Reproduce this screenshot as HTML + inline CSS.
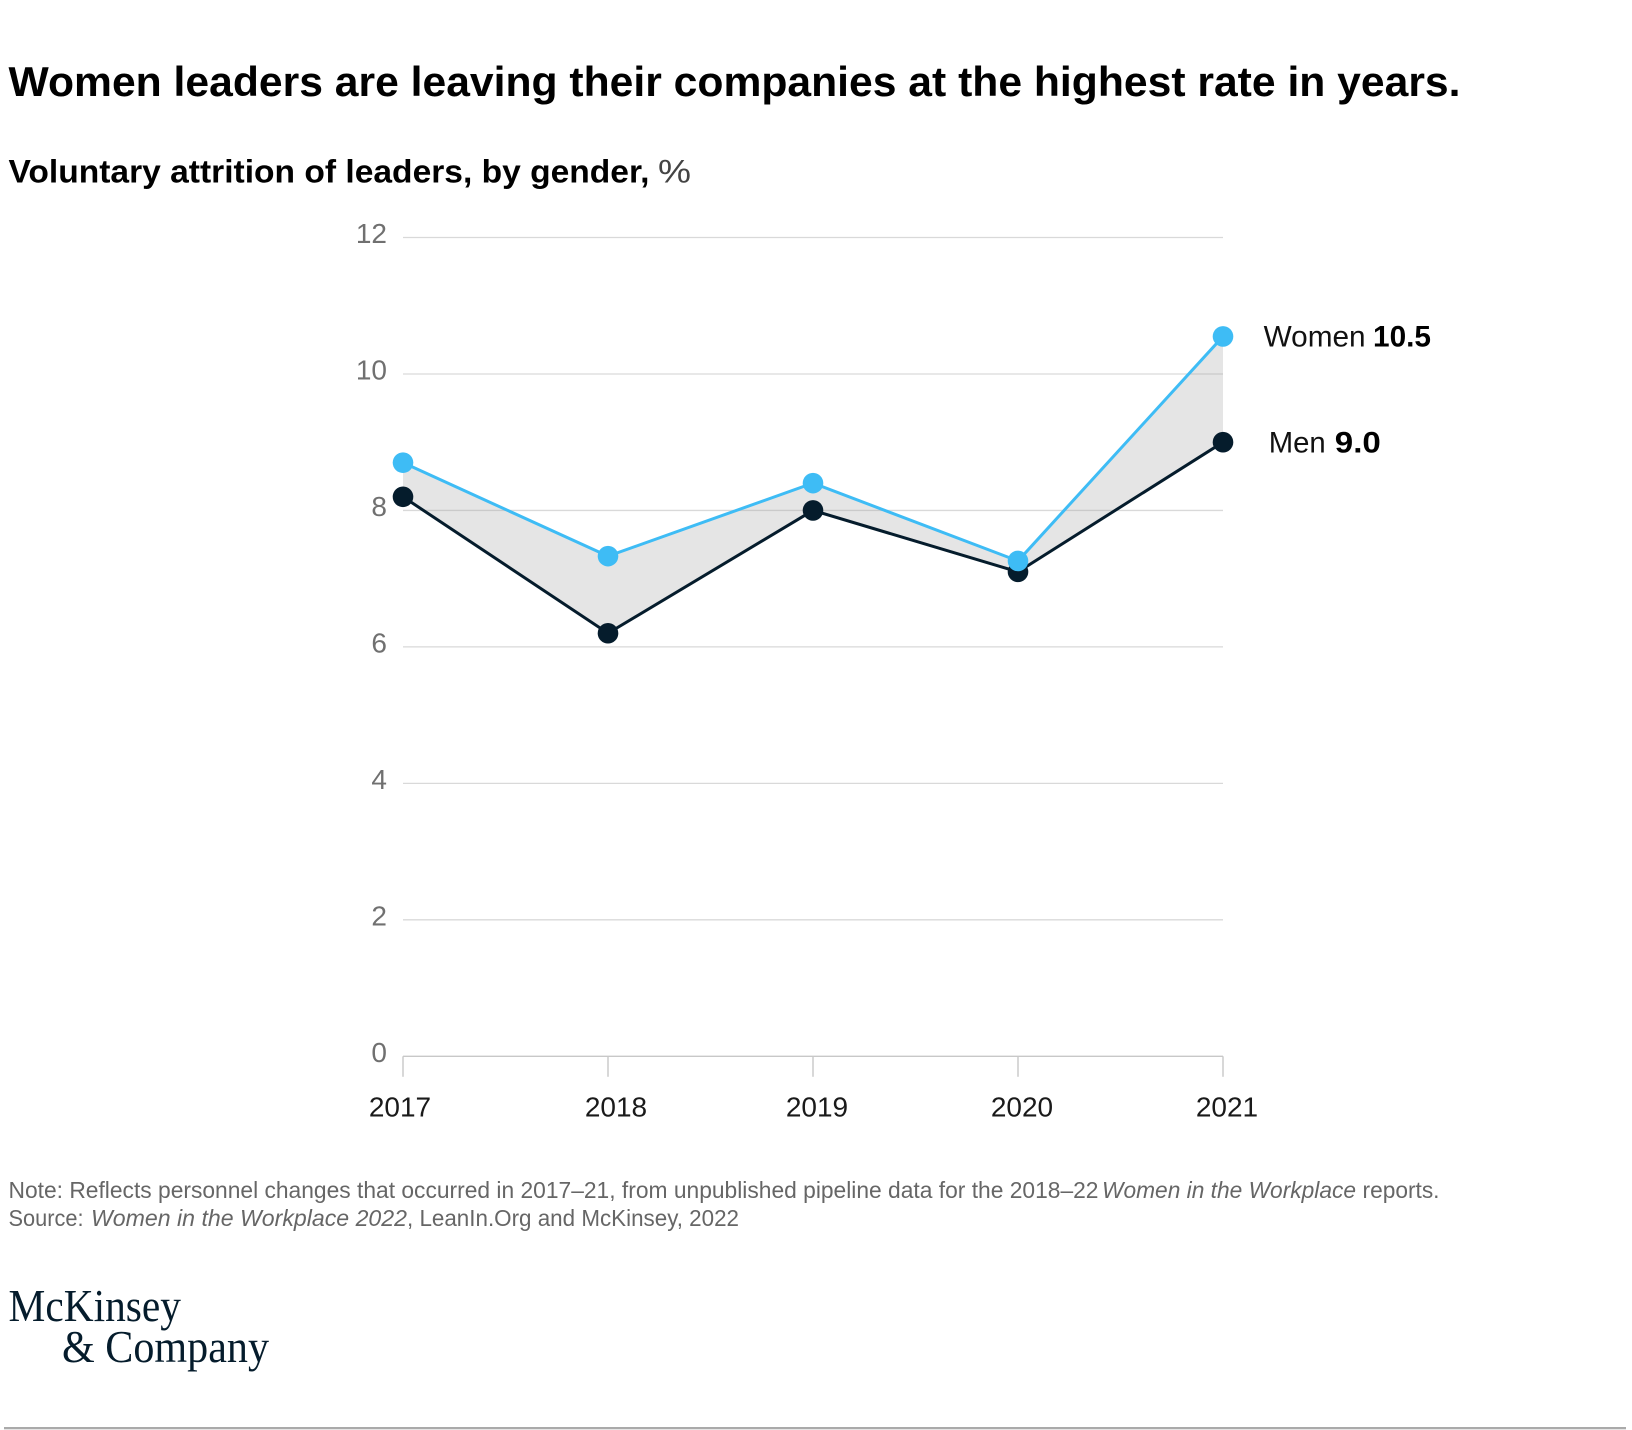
<!DOCTYPE html>
<html lang="en">
<head>
<meta charset="utf-8">
<title>Women leaders attrition chart</title>
<style>
  html, body { margin: 0; padding: 0; background: #fff; }
  body { width: 1632px; height: 1430px; overflow: hidden; }
  svg { display: block; font-family: "Liberation Sans", Arial, sans-serif; }
  text { white-space: pre; }
</style>
</head>
<body>
<svg id="chart" width="1632" height="1430" viewBox="0 0 1632 1430" xmlns="http://www.w3.org/2000/svg">
  <rect x="0" y="0" width="1632" height="1430" fill="#ffffff"/>

  <text x="8.5" y="96" font-size="42" font-weight="700" fill="#000" textLength="1452" lengthAdjust="spacingAndGlyphs">Women leaders are leaving their companies at the highest rate in years.</text>

  <text x="8.5" y="182.5" font-size="32" font-weight="700" fill="#000" textLength="641" lengthAdjust="spacingAndGlyphs">Voluntary attrition of leaders, by gender,</text>
  <text x="658" y="182.5" font-size="32" fill="#444" textLength="33" lengthAdjust="spacingAndGlyphs">%</text>

  <g id="grid"></g>
  <g id="y-axis"></g>
  <g id="x-axis"></g>
  <g id="marks"></g>
  <g id="legend"></g>

  <g font-size="23" fill="#666">
    <text x="8.5" y="1198" textLength="1090" lengthAdjust="spacingAndGlyphs">Note: Reflects personnel changes that occurred in 2017–21, from unpublished pipeline data for the 2018–22</text>
    <text x="1102" y="1198" font-style="italic" textLength="254" lengthAdjust="spacingAndGlyphs">Women in the Workplace</text>
    <text x="1362.5" y="1198" textLength="77" lengthAdjust="spacingAndGlyphs">reports.</text>
    <text x="8.5" y="1226" textLength="75" lengthAdjust="spacingAndGlyphs">Source:</text>
    <text x="91" y="1226" font-style="italic" textLength="316" lengthAdjust="spacingAndGlyphs">Women in the Workplace 2022</text>
    <text x="407" y="1226" textLength="332" lengthAdjust="spacingAndGlyphs">, LeanIn.Org and McKinsey, 2022</text>
  </g>

  <g font-family="'Liberation Serif', serif" font-size="46" fill="#051c2c">
    <text x="8.5" y="1321" textLength="172.5" lengthAdjust="spacingAndGlyphs">McKinsey</text>
    <text x="62" y="1362" textLength="207" lengthAdjust="spacingAndGlyphs">&amp; Company</text>
  </g>

  <rect x="4" y="1427" width="1622" height="2.3" fill="#aaaaaa"/>
</svg>

<script>
const years = ["2017", "2018", "2019", "2020", "2021"];
const womenValues = [8.7, 7.33, 8.4, 7.26, 10.55];
const menValues = [8.2, 6.2, 8.0, 7.1, 9.0];
const yTicks = [0, 2, 4, 6, 8, 10, 12];
const seriesNames = ["Women", "Men"];
const printedValues = ["10.5", "9.0"];

const NS = "http://www.w3.org/2000/svg";
const plotLeft = 403, plotRight = 1223, plotBottom = 1056.3, plotTop = 237.5;
const yMax = 12;

function xScale(i) {
  return plotLeft + (plotRight - plotLeft) * i / (years.length - 1);
}
function yScale(v) {
  return plotBottom - (plotBottom - plotTop) * v / yMax;
}
function make(tag, attrs, parent, text) {
  const el = document.createElementNS(NS, tag);
  for (const k in attrs) el.setAttribute(k, attrs[k]);
  if (text !== undefined) el.textContent = text;
  parent.appendChild(el);
  return el;
}
function labelNudge(i) {
  if (i === 0) return -3;
  if (i === 1) return 8;
  return 4;
}
function pointList(values) {
  return values.map((v, i) => xScale(i) + "," + yScale(v));
}

const grid = document.getElementById("grid");
const yAxis = document.getElementById("y-axis");
const xAxis = document.getElementById("x-axis");
const marks = document.getElementById("marks");
const legend = document.getElementById("legend");

yTicks.forEach((t) => {
  if (t !== 0) {
    const line = make("line", { x1: plotLeft, x2: plotRight, y1: yScale(t), y2: yScale(t), stroke: "#d9d9d9", "stroke-width": 1.3 }, grid);
    
    
  }
  const label = make("text", { x: 387, y: yScale(t) + 5.5, "text-anchor": "end", "font-size": 28, fill: "#707070" }, yAxis, String(t));
  
  
});

const baseline = make("line", { x1: plotLeft, x2: plotRight, y1: plotBottom, y2: plotBottom, stroke: "#c8c8c8", "stroke-width": 1.4 }, xAxis);



years.forEach((yr, i) => {
  const tick = make("line", { x1: xScale(i), x2: xScale(i), y1: plotBottom, y2: plotBottom + 20.5, stroke: "#c8c8c8", "stroke-width": 1.4 }, xAxis);
  
  
  const label = make("text", { x: xScale(i) + labelNudge(i), y: 1116.5, "text-anchor": "middle", "font-size": 28, fill: "#1a1a1a" }, xAxis, yr);
  
  
});

const gapPoints = pointList(womenValues).concat(pointList(menValues).reverse()).join(" ");
const band = make("polygon", { points: gapPoints, fill: "#aaaaaa", "fill-opacity": 0.3 }, marks);



const womenLine = make("polyline", { points: pointList(womenValues).join(" "), fill: "none", stroke: "#3ebcf5", "stroke-width": 3 }, marks);



const menLine = make("polyline", { points: pointList(menValues).join(" "), fill: "none", stroke: "#051c2c", "stroke-width": 3 }, marks);



menValues.forEach((v, i) => {
  const dot = make("circle", { cx: xScale(i), cy: yScale(v), r: 10.3, fill: "#051c2c" }, marks);
  
  
});
womenValues.forEach((v, i) => {
  const dot = make("circle", { cx: xScale(i), cy: yScale(v), r: 10.3, fill: "#3ebcf5" }, marks);
  
  
});

const lastIndex = years.length - 1;
const womenNameLabel = make("text", { x: plotRight + 40.6, y: yScale(womenValues[lastIndex]) + 10, "font-size": 30, fill: "#111", textLength: 102, lengthAdjust: "spacingAndGlyphs" }, legend, seriesNames[0]);


const womenValueLabel = make("text", { x: plotRight + 150, y: yScale(womenValues[lastIndex]) + 10, "font-size": 30, "font-weight": 700, fill: "#000", textLength: 58, lengthAdjust: "spacingAndGlyphs" }, legend, printedValues[0]);


const menNameLabel = make("text", { x: plotRight + 45.7, y: yScale(menValues[lastIndex]) + 10.4, "font-size": 30, fill: "#111", textLength: 57, lengthAdjust: "spacingAndGlyphs" }, legend, seriesNames[1]);


const menValueLabel = make("text", { x: plotRight + 111.8, y: yScale(menValues[lastIndex]) + 10.4, "font-size": 30, "font-weight": 700, fill: "#000", textLength: 46, lengthAdjust: "spacingAndGlyphs" }, legend, printedValues[1]);


</script>
</body>
</html>
